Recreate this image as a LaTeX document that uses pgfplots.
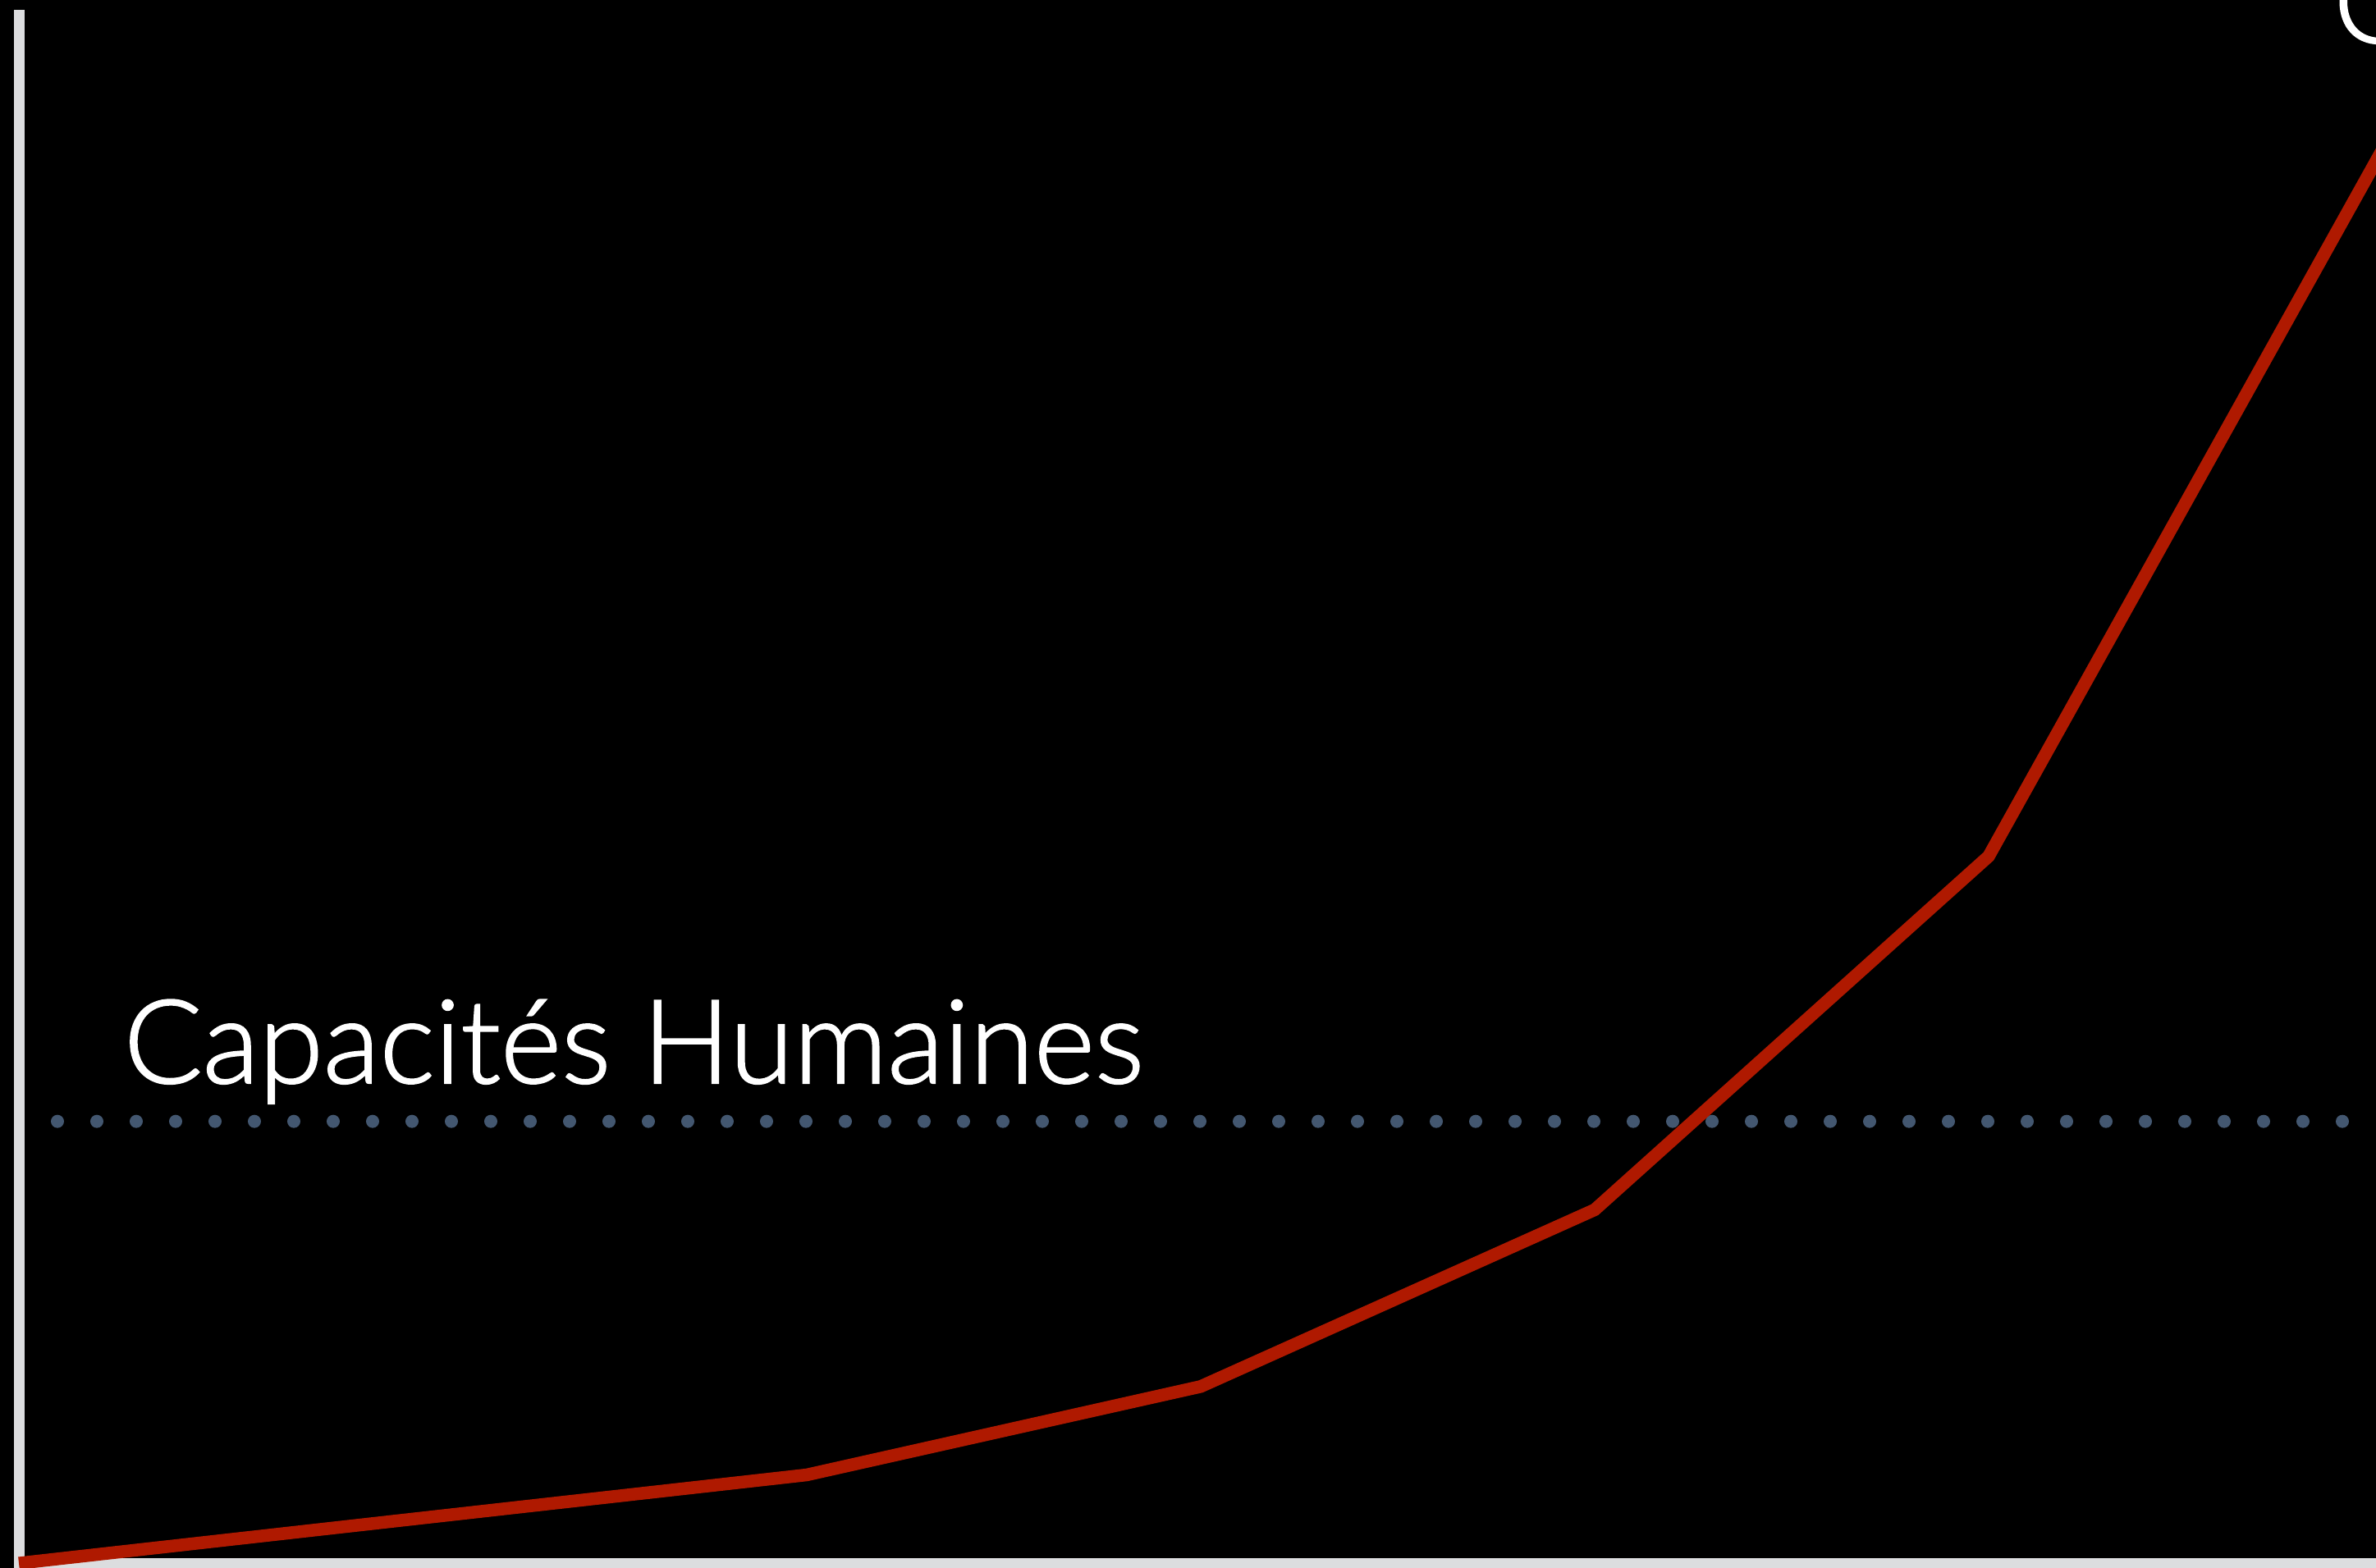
\documentclass[border=0pt]{standalone}
\usepackage{pgfplots}
\pgfplotsset{compat=1.18}
\usepackage{fontspec}
\newfontfamily\lightfont{Lato Light}[FakeBold=1.5]
\definecolor{redline}{RGB}{175,25,0}
\definecolor{dotc}{RGB}{67,87,112}
\definecolor{axisgray}{RGB}{220,221,223}
\begin{document}
\begin{tikzpicture}
\fill[black] (0,0) rectangle (289.5mm,191.1mm);
\clip (0,0) rectangle (289.5mm,191.1mm);
\begin{axis}[at={(0,0)}, anchor=south west, scale only axis,
  width=289.5mm, height=191.1mm,
  xmin=-0.04792, xmax=5.98333, ymin=-0.05385, ymax=17.690,
  axis lines=none, clip=true]
\addplot[draw=axisgray, line width=1.3mm, line join=miter, line cap=butt] coordinates {(0,17.58) (0,0) (6.2,0)};
\addplot[draw=dotc, line width=1.6mm, line cap=round, dash pattern=on 0pt off 4.8mm] coordinates {(0.0979,5) (5.92,5)};
\addplot[draw=redline, line width=1.55mm, line join=miter, line cap=butt] coordinates {(0,0) (2,1) (3,2) (4,4) (5,8) (6,16)};
\node[anchor=base west, inner sep=0pt, text=white, font=\lightfont\fontsize{40.4pt}{48pt}\selectfont] at (axis cs:0.265,5.434) {Capacités Humaines};
\node[anchor=base west, inner sep=0pt, text=white, font=\lightfont\fontsize{40.4pt}{48pt}\selectfont] at (axis cs:5.874,17.207) {Capacités IA};
\end{axis}
\end{tikzpicture}
\end{document}
